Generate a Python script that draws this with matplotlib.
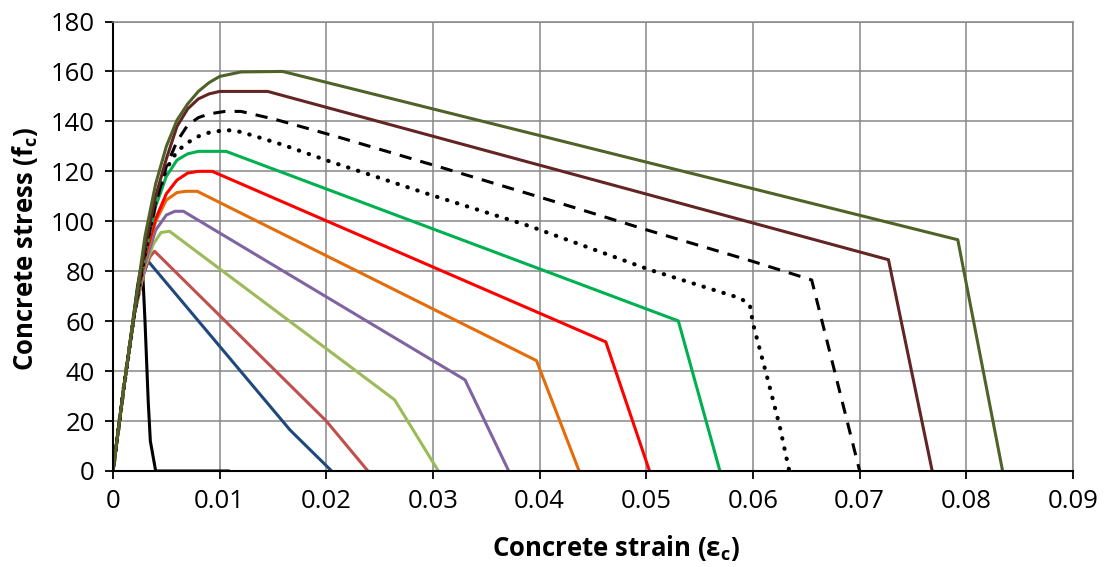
import matplotlib
matplotlib.use("Agg")
import matplotlib.pyplot as plt

plt.rcParams['font.family'] = ['Open Sans', 'DejaVu Sans']
plt.rcParams['mathtext.fontset'] = 'custom'
plt.rcParams['mathtext.rm'] = 'Open Sans'
plt.rcParams['mathtext.bf'] = 'Open Sans:bold'

# strain / stress pairs, one list per curve
unconf_x = [0, 0.001, 0.0018, 0.0023, 0.0026, 0.0028, 0.0030, 0.0033, 0.0035, 0.0040, 0.0108]
unconf_y = [0, 33, 58, 74, 81, 78, 60, 28, 12, 0, 0]

blue_x = [0, 0.001, 0.002, 0.0028, 0.0033, 0.0166, 0.0205]
blue_y = [0, 33, 63, 78, 84, 16.4, 0]

rose_x = [0, 0.001, 0.002, 0.003, 0.0035, 0.0039, 0.0200, 0.0239]
rose_y = [0, 33, 63, 81, 86, 88, 20, 0]

lgreen_x = [0, 0.001, 0.002, 0.003, 0.0038, 0.0045, 0.0053, 0.0264, 0.0305]
lgreen_y = [0, 33, 63, 82, 91, 95.5, 96, 28.5, 0]

purple_x = [0, 0.001, 0.002, 0.003, 0.004, 0.005, 0.0058, 0.0066, 0.0330, 0.0371]
purple_y = [0, 33, 63, 83, 96.5, 102.5, 104, 104, 36.5, 0]

orange_x = [0, 0.001, 0.002, 0.003, 0.004, 0.005, 0.006, 0.0068, 0.0079, 0.0397, 0.0437]
orange_y = [0, 33, 63, 85, 100, 108.5, 111.5, 112, 112, 44.2, 0]

red_x = [0, 0.001, 0.002, 0.003, 0.004, 0.005, 0.006, 0.007, 0.008, 0.0093, 0.0462, 0.0503]
red_y = [0, 33, 63, 86, 101, 111, 116.5, 119.3, 120, 120, 51.7, 0]

green_x = [0, 0.001, 0.002, 0.003, 0.004, 0.005, 0.006, 0.007, 0.008, 0.0106, 0.0530, 0.0569]
green_y = [0, 33, 63, 87, 106, 118, 124.5, 127, 128, 128, 60.1, 0]

dot_x = [0, 0.001, 0.002, 0.003, 0.004, 0.005, 0.006, 0.007, 0.008, 0.009, 0.0105, 0.0115,
         0.013, 0.016, 0.0203, 0.0297, 0.0391, 0.0503, 0.0588, 0.0597, 0.0600, 0.0613, 0.0625, 0.0634]
dot_y = [0, 33, 63, 87, 108, 121, 128, 131.5, 134, 135.5, 136.5, 136.3,
         134.5, 130.5, 124, 110.7, 98, 80.6, 69.2, 66.6, 59, 38, 18, 0]

dash_x = [0, 0.001, 0.002, 0.003, 0.004, 0.005, 0.006, 0.007, 0.008, 0.009, 0.0105, 0.012,
          0.0153, 0.0209, 0.0309, 0.0434, 0.0500, 0.0600, 0.0655, 0.0700]
dash_y = [0, 33, 63, 88, 107, 122, 132, 138.5, 141.5, 143, 144, 144,
          140.7, 134, 121.4, 105.3, 96.6, 83.9, 76.5, 0]

brown_x = [0, 0.001, 0.002, 0.003, 0.004, 0.005, 0.006, 0.007, 0.008, 0.009, 0.010, 0.0145, 0.0727, 0.0768]
brown_y = [0, 33, 63, 90, 110, 125, 138, 145, 149, 151, 152, 152, 84.6, 0]

olive_x = [0, 0.001, 0.002, 0.003, 0.004, 0.005, 0.006, 0.007, 0.008, 0.009, 0.010, 0.012, 0.0159, 0.0792, 0.0834]
olive_y = [0, 33, 64, 94, 115, 130, 140.5, 147, 152, 155.5, 158, 159.8, 160, 92.6, 0]

fig = plt.figure(figsize=(11.09, 5.67), dpi=100)
ax = fig.add_axes([113 / 1109, 1 - 471 / 567, 960 / 1109, 449.5 / 567])

lw = 2.2
ax.plot(unconf_x, unconf_y, color='black', lw=lw)
ax.plot(blue_x, blue_y, color='#1F497D', lw=lw)
ax.plot(rose_x, rose_y, color='#C0504D', lw=lw)
ax.plot(lgreen_x, lgreen_y, color='#9BBB59', lw=lw)
ax.plot(purple_x, purple_y, color='#8064A2', lw=lw)
ax.plot(orange_x, orange_y, color='#E46C0A', lw=lw)
ax.plot(red_x, red_y, color='#FF0000', lw=lw)
ax.plot(green_x, green_y, color='#00B050', lw=lw)
ax.plot(dot_x, dot_y, color='black', lw=3.0, linestyle=(0, (0.1, 2.4)), dash_capstyle='round')
ax.plot(dash_x, dash_y, color='black', lw=lw, linestyle=(0, (4, 3)))
ax.plot(brown_x, brown_y, color='#632523', lw=lw)
ax.plot(olive_x, olive_y, color='#4F6228', lw=lw)

ax.set_xlim(0, 0.09)
ax.set_ylim(0, 180)
ax.set_xticks([i * 0.01 for i in range(10)])
ax.set_xticklabels(['0'] + ['0.0%d' % i for i in range(1, 10)])
ax.set_yticks(range(0, 181, 20))

ax.grid(True, color='#878787', lw=1.1)
ax.set_axisbelow(True)
for s in ['top', 'right']:
    ax.spines[s].set_color('#878787')
    ax.spines[s].set_linewidth(1.1)
for s in ['left', 'bottom']:
    ax.spines[s].set_color('black')
    ax.spines[s].set_linewidth(1.5)
ax.tick_params(direction='out', length=6, width=1.3, labelsize=18.5, pad=7)

ax.set_xlabel(r'Concrete strain (ε$_\mathbf{c}$)', fontsize=18.5, fontweight='bold', va='center')
ax.set_ylabel(r'Concrete stress (f$_\mathbf{c}$)', fontsize=18.5, fontweight='bold', va='center')
ax.xaxis.set_label_coords((616 - 113) / 960, (471 - 548) / 449.5)
ax.yaxis.set_label_coords((25 - 113) / 960, (471 - 249) / 449.5)

fig.savefig('out.png', dpi=100)
